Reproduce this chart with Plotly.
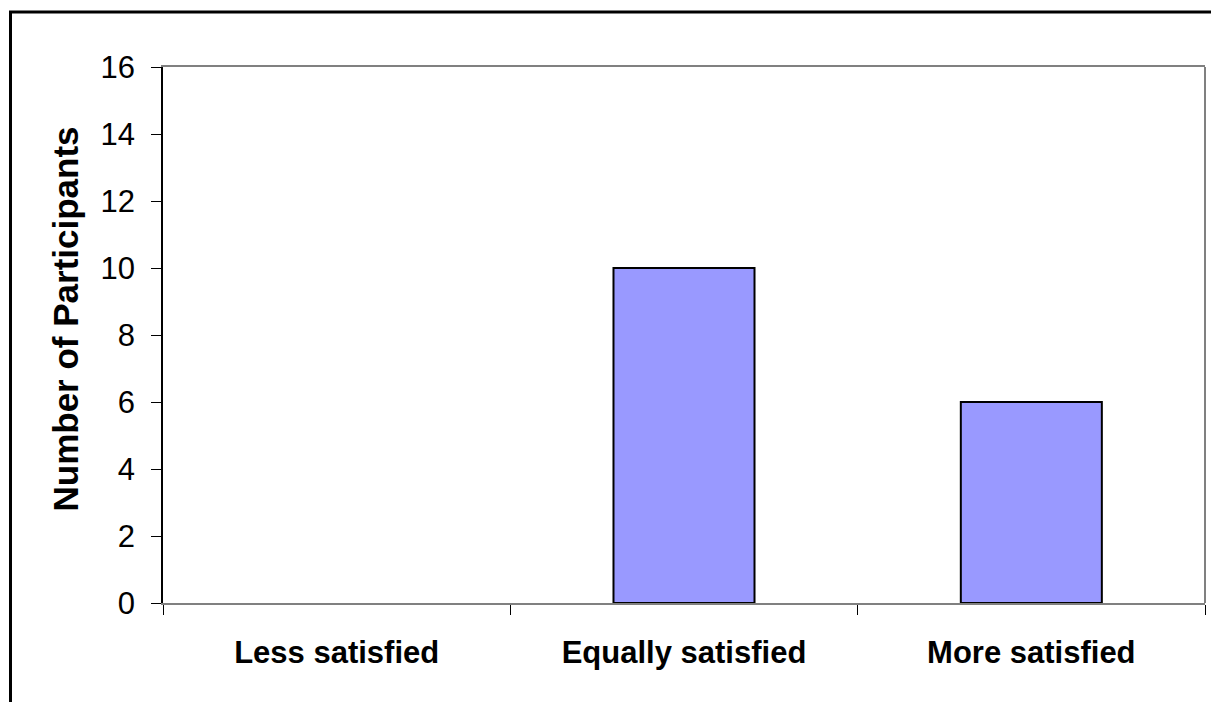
import plotly.graph_objects as go

# Survey responses: satisfaction compared with the previous arrangement
categories = ["Less satisfied", "Equally satisfied", "More satisfied"]
participants = [0, 10, 6]
y_ticks = [0, 2, 4, 6, 8, 10, 12, 14, 16]

W, H = 1211, 702
L, R, T, B = 163, 6, 67, 99
pw, ph = W - L - R, H - T - B

def px_to_paper_x(px):
    return (px - L) / pw

def px_to_paper_y(py):
    return (H - B - py) / ph

# No outline on empty bars so a zero count leaves no stray line on the axis
outline_widths = [2 if v > 0 else 0 for v in participants]

fig = go.Figure(
    go.Bar(
        x=categories,
        y=participants,
        marker=dict(color="#9999FF", line=dict(color="black", width=outline_widths)),
        hoverinfo="x+y",
    )
)

font_family = "Arial, Liberation Sans, sans-serif"

fig.update_layout(
    width=W,
    height=H,
    margin=dict(l=L, r=R, t=T, b=B, autoexpand=False),
    paper_bgcolor="white",
    plot_bgcolor="white",
    bargap=0.594,
    showlegend=False,
    font=dict(family=font_family, color="black"),
)

fig.update_xaxes(
    showline=True,
    linecolor="#808080",
    linewidth=2,
    mirror=True,
    showgrid=False,
    ticks="outside",
    tickson="boundaries",
    ticklen=10,
    tickcolor="black",
    tickwidth=1,
    tickfont=dict(size=31, family=font_family, weight="bold"),
    ticklabelstandoff=21,
)

fig.update_yaxes(
    range=[0, 16],
    tickvals=y_ticks,
    showline=True,
    linecolor="black",
    linewidth=1.5,
    showgrid=False,
    zeroline=False,
    ticks="outside",
    ticklen=10,
    tickcolor="black",
    tickwidth=1,
    tickfont=dict(size=31, family=font_family),
    ticklabelstandoff=10,
)

# Right edge of the plot frame
fig.add_shape(
    type="line", xref="paper", yref="paper",
    x0=1, x1=1, y0=0, y1=1,
    line=dict(color="#808080", width=2),
)

# Outer chart frame (runs off the right and bottom edges)
fig.add_shape(
    type="rect", xref="paper", yref="paper",
    x0=px_to_paper_x(10.5), x1=px_to_paper_x(W + 20),
    y0=px_to_paper_y(H + 20), y1=px_to_paper_y(12),
    line=dict(color="black", width=3),
    fillcolor="rgba(0,0,0,0)",
    layer="above",
)

# Vertical axis title
fig.add_annotation(
    text="Number of Participants",
    xref="paper", yref="paper",
    x=px_to_paper_x(64.5), y=px_to_paper_y(319),
    xanchor="center", yanchor="middle",
    textangle=-90,
    showarrow=False,
    font=dict(size=35, family=font_family, weight="bold", color="black"),
)

fig.write_html("out.html")
